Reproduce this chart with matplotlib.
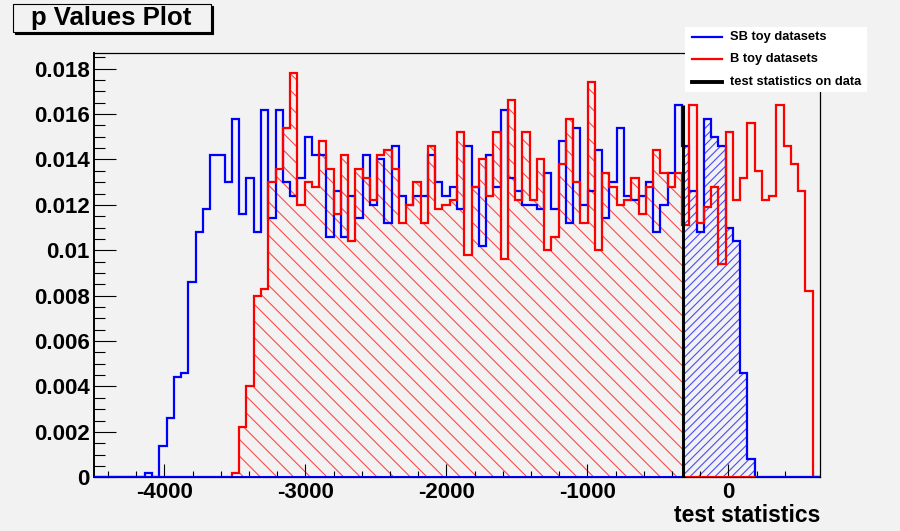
import numpy as np
import matplotlib
matplotlib.use("Agg")
import matplotlib.pyplot as plt
from matplotlib.patches import Rectangle
from matplotlib.lines import Line2D

# ---------------- data ----------------
x_min, x_max, n_bins = -4500.0, 650.0, 100
test_stat = -325.0

# SB toy datasets (bin contents, units of 1e-3)
sb_vals = [0, 0, 0, 0, 0, 0, 0, 0.2, 0, 1.4,
           2.6, 4.4, 4.6, 8.6, 10.8, 11.8, 14.2, 14.2, 13.0, 15.8,
           11.6, 13.2, 10.8, 16.2, 11.4, 16.2, 13.0, 12.4, 13.2, 15.0,
           14.2, 14.2, 10.6, 12.6, 10.6, 12.4, 11.4, 14.2, 12.0, 14.0,
           11.2, 14.6, 12.4, 12.0, 12.4, 12.4, 14.2, 13.0, 12.4, 12.8,
           11.8, 14.6, 12.8, 10.2, 14.2, 12.8, 16.2, 13.2, 12.6, 12.0,
           12.0, 11.8, 13.4, 11.8, 14.8, 11.2, 15.4, 12.0, 12.6, 14.4,
           11.4, 13.0, 15.4, 12.4, 12.2, 12.4, 13.0, 10.8, 12.0, 13.4,
           16.4, 14.6, 12.6, 10.8, 15.8, 15.0, 14.6, 11.0, 10.4, 4.6,
           0.8, 0, 0, 0, 0, 0, 0, 0, 0, 0]

# B toy datasets (bin contents, units of 1e-3)
b_vals = [0, 0, 0, 0, 0, 0, 0, 0, 0, 0,
          0, 0, 0, 0, 0, 0, 0, 0, 0, 0.2,
          2.2, 4.0, 8.0, 8.3, 13.0, 13.6, 15.4, 17.8, 12.0, 13.0,
          12.8, 14.8, 13.6, 11.6, 14.2, 10.4, 13.6, 13.2, 12.2, 14.2,
          14.4, 13.6, 11.2, 12.0, 13.0, 11.2, 14.6, 11.8, 12.0, 12.2,
          15.2, 9.8, 12.8, 14.0, 12.4, 15.2, 9.6, 16.6, 12.2, 15.2,
          12.2, 14.0, 10.0, 10.6, 13.8, 15.8, 13.0, 11.2, 17.4, 10.0,
          13.4, 12.8, 12.0, 12.2, 13.2, 11.6, 12.8, 14.4, 13.4, 12.8,
          13.4, 11.1, 16.4, 11.2, 11.9, 12.8, 9.4, 15.2, 12.2, 13.2,
          15.6, 13.5, 12.2, 12.4, 16.4, 14.6, 13.8, 12.6, 8.2, 0]

x_ticks = [-4000, -3000, -2000, -1000, 0]
x_ticklabels = ["-4000", "-3000", "-2000", "-1000", "0"]
y_ticks = [0, 0.002, 0.004, 0.006, 0.008, 0.010, 0.012, 0.014, 0.016, 0.018]
y_ticklabels = ["0", "0.002", "0.004", "0.006", "0.008", "0.01",
                "0.012", "0.014", "0.016", "0.018"]
title = "p Values Plot"
x_label = "test statistics"
legend_labels = ["SB toy datasets", "B toy datasets", "test statistics on data"]

# ---------------- style ----------------
BG = "#f2f2f2"
BLUE = "#0000ff"
RED = "#ff0000"
FONT = "Liberation Sans"
plt.rcParams["font.family"] = [FONT, "DejaVu Sans"]
plt.rcParams["hatch.linewidth"] = 0.8

W, H = 900, 531
fig = plt.figure(figsize=(W / 100, H / 100), dpi=100, facecolor=BG)

def fx(x):
    return x / W

def fy(y):
    return 1 - y / H

ax_l, ax_r, ax_t, ax_b = 94, 820, 53, 477.3
ax = fig.add_axes([fx(ax_l), fy(ax_b), fx(ax_r) - fx(ax_l), fy(ax_t) - fy(ax_b)])
ax.set_facecolor(BG)

edges = np.linspace(x_min, x_max, n_bins + 1)
sb = np.array(sb_vals) * 1e-3
bb = np.array(b_vals) * 1e-3

# hatched p-value regions
k = np.searchsorted(edges, test_stat) - 1  # bin containing the test statistic
xr = np.concatenate([edges[:k + 1], [test_stat]])
yr = np.concatenate([bb[:k + 1], [bb[k]]])
ax.fill_between(xr, yr, step="post", facecolor="none", edgecolor="#ff4a4a",
                hatch="\\\\", linewidth=0, zorder=1)
xb = np.concatenate([[test_stat], edges[k + 1:]])
yb = np.concatenate([sb[k:], [sb[-1]]])
ax.fill_between(xb, yb, step="post", facecolor="none", edgecolor="#4a4aff",
                hatch="////", linewidth=0, zorder=1)

# histograms
ax.stairs(sb, edges, color=BLUE, linewidth=1.6, zorder=3)
ax.stairs(bb, edges, color=RED, linewidth=1.6, zorder=4)
ax.axhline(0, color=BLUE, linewidth=2.2, zorder=5)
last_sb = edges[np.nonzero(sb)[0][-1] + 1]
ax.plot([test_stat, last_sb], [0, 0], color=RED, linewidth=2.2, zorder=6,
        solid_capstyle="butt")

# test statistic on data
ax.vlines(test_stat, 0, sb.max(), color="black", linewidth=2.2, zorder=7)

ax.set_xlim(x_min, x_max)
ax.set_ylim(0, 1.05 * bb.max())

ax.set_xticks(x_ticks)
ax.set_xticklabels(x_ticklabels)
ax.set_xticks(np.arange(-4400, 650, 200), minor=True)
ax.set_yticks(y_ticks)
ax.set_yticklabels(y_ticklabels)
ax.set_yticks(np.arange(0, 0.0186, 0.0005), minor=True)

ax.tick_params(axis="both", which="both", direction="in", width=0.8,
               color="black", top=False, right=False)
ax.tick_params(axis="x", which="major", length=9.2, pad=3.5, labelsize=16)
ax.tick_params(axis="x", which="minor", length=4.6)
ax.tick_params(axis="y", which="major", length=15.8, pad=3, labelsize=16)
ax.tick_params(axis="y", which="minor", length=7.9)
for lab in ax.get_xticklabels() + ax.get_yticklabels():
    lab.set_fontweight("bold")

for s in ax.spines.values():
    s.set_linewidth(0.9)
    s.set_color("black")
ax.spines["left"].set_linewidth(1.4)

fig.text(fx(ax_r), fy(522.5), x_label, ha="right", va="baseline",
         fontsize=16.5, fontweight="bold")

# title box
fig.add_artist(Rectangle((fx(15), fy(34)), fx(211) - fx(13), fy(4) - fy(32),
                         transform=fig.transFigure, facecolor="black",
                         edgecolor="black", linewidth=0.8, zorder=9))
fig.add_artist(Rectangle((fx(13), fy(32)), fx(211) - fx(13), fy(4) - fy(32),
                         transform=fig.transFigure, facecolor=BG,
                         edgecolor="black", linewidth=0.8, zorder=10))
fig.text(fx(111), fy(18), title, ha="center", va="center",
         fontsize=18.5, fontweight="bold", zorder=11)

# legend
fig.add_artist(Rectangle((fx(685), fy(92)), fx(867) - fx(685), fy(27) - fy(92),
                         transform=fig.transFigure, facecolor="white",
                         edgecolor="none", zorder=10))
leg_y = [37.3, 59.3, 81.7]
leg_c = [BLUE, RED, "black"]
leg_w = [1.6, 1.6, 2.8]
for yy, c, w, lab in zip(leg_y, leg_c, leg_w, legend_labels):
    fig.add_artist(Line2D([fx(692), fx(722)], [fy(yy), fy(yy)],
                          transform=fig.transFigure, color=c, linewidth=w,
                          zorder=11))
    fig.text(fx(730), fy(yy), lab, ha="left", va="center", fontsize=9.3,
             fontweight="bold", zorder=12)

fig.savefig("out.png", dpi=100, facecolor=BG)
